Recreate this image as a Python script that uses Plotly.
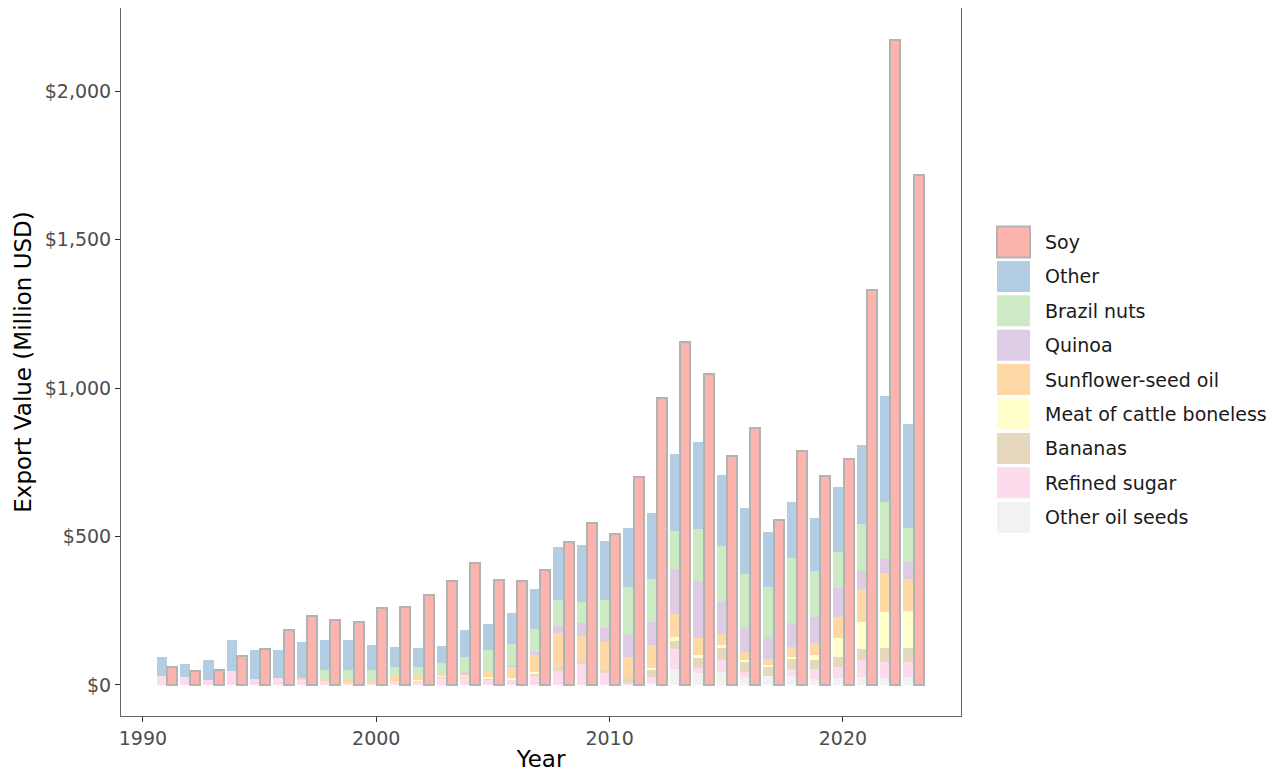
import plotly.graph_objects as go

years = list(range(1991, 2024))

soy = [60, 48, 50, 97, 122, 185, 231, 219, 211, 259, 263, 304, 351, 412, 354, 349, 386, 483, 545, 509,
       700, 965, 1156, 1048, 772, 866, 556, 788, 705, 760, 1330, 2172, 1717]
other = [64, 44, 68, 102, 98, 95, 122, 103, 102, 84, 66, 61, 56, 92, 86, 105, 134, 178, 190, 199,
         198, 223, 259, 293, 237, 222, 185, 186, 178, 217, 267, 355, 349]
brazil_nuts = [0, 0, 0, 0, 0, 0, 0, 31, 33, 35, 32, 28, 36, 49, 75, 71, 76, 87, 73, 93,
               163, 143, 128, 174, 188, 179, 168, 219, 155, 123, 156, 193, 117]
quinoa = [0, 0, 0, 0, 0, 0, 0, 0, 0, 0, 0, 0, 0, 5, 0, 7, 12, 25, 43, 47,
          73, 78, 153, 193, 109, 82, 75, 81, 90, 96, 62, 46, 56]
sunflower_oil = [0, 0, 0, 0, 0, 0, 3, 5, 10, 12, 17, 17, 8, 9, 16, 38, 55, 112, 84, 95,
                 67, 79, 79, 56, 37, 28, 21, 34, 39, 71, 110, 133, 107]
meat_cattle = [0, 0, 0, 0, 0, 0, 0, 0, 0, 0, 0, 2, 3, 3, 5, 3, 6, 0, 0, 0,
               0, 5, 11, 11, 12, 8, 5, 9, 17, 64, 92, 122, 127]
bananas = [0, 0, 0, 0, 0, 0, 0, 0, 0, 0, 0, 0, 3, 2, 5, 2, 8, 14, 11, 10,
           20, 23, 29, 34, 39, 31, 32, 32, 30, 35, 37, 47, 44]
refined_sugar = [31, 26, 17, 48, 19, 24, 20, 14, 7, 3, 13, 15, 25, 26, 17, 17, 31, 48, 70, 41,
                 8, 20, 67, 17, 39, 17, 0, 24, 34, 35, 56, 54, 51]
other_oil_seeds = [0, 0, 0, 0, 0, 0, 0, 0, 0, 0, 0, 0, 0, 0, 0, 0, 0, 0, 0, 0,
                   0, 8, 53, 39, 45, 28, 30, 30, 20, 25, 28, 22, 28]

y_tick_values = [0, 500, 1000, 1500, 2000]
x_tick_values = [1990, 2000, 2010, 2020]

# stacking order bottom -> top
stack_names = ["Other oil seeds", "Refined sugar", "Bananas", "Meat of cattle boneless",
               "Sunflower-seed oil", "Quinoa", "Brazil nuts", "Other"]
stack_values = [other_oil_seeds, refined_sugar, bananas, meat_cattle,
                sunflower_oil, quinoa, brazil_nuts, other]
colors = {
    "Soy": "#FBB4AE", "Other": "#B3CDE3", "Brazil nuts": "#CCEBC5", "Quinoa": "#DECBE4",
    "Sunflower-seed oil": "#FED9A6", "Meat of cattle boneless": "#FFFFCC", "Bananas": "#E5D8BD",
    "Refined sugar": "#FDDAEC", "Other oil seeds": "#F2F2F2",
}
legend_order = ["Soy", "Other", "Brazil nuts", "Quinoa", "Sunflower-seed oil",
                "Meat of cattle boneless", "Bananas", "Refined sugar", "Other oil seeds"]

BAR_W = 0.43
x_stack = [y - 0.19 for y in years]
x_soy = [y + 0.24 for y in years]

fig = go.Figure()
for name, vals in zip(stack_names, stack_values):
    fig.add_trace(go.Bar(x=x_stack, y=vals, name=name, width=BAR_W,
                         marker=dict(color=colors[name], line=dict(width=0)),
                         showlegend=False))
fig.add_trace(go.Bar(x=x_soy, y=soy, name="Soy", width=BAR_W,
                     marker=dict(color=colors["Soy"], line=dict(color="#B3B3B3", width=2)),
                     showlegend=False))

# The page body adds an 8px offset; figure spans page (8..1275, 8..772)
OFF = 8
W, H = 1275 - OFF, 772 - OFF
# plot area in page pixels
PL, PR, PT, PB = 121, 961, 8, 716
L, R, T, B = PL - OFF, PR - OFF, PT - OFF, PB - OFF
pw, ph = R - L, B - T

# manual legend (large swatches like the reference), page pixel positions
sw_x0, sw_x1, lab_x = 997, 1030, 1043
first_c, step, sw_h = 242, 34.4, 31
shapes = []
annotations = []
for i, name in enumerate(legend_order):
    cy = first_c + i * step
    shapes.append(dict(type="rect", xref="paper", yref="paper",
                       x0=(sw_x0 - PL) / pw, x1=(sw_x1 - PL) / pw,
                       y0=(PB - (cy + sw_h / 2)) / ph, y1=(PB - (cy - sw_h / 2)) / ph,
                       fillcolor=colors[name],
                       line=dict(color="#B3B3B3" if name == "Soy" else "white",
                                 width=2 if name == "Soy" else 0)))
    annotations.append(dict(xref="paper", yref="paper", x=(lab_x - PL) / pw, y=(PB - cy) / ph,
                            text=name, showarrow=False, xanchor="left", yanchor="middle",
                            font=dict(family="DejaVu Sans", size=19, color="#1a1a1a")))

fig.update_layout(
    width=W, height=H,
    barmode="stack", bargap=0,
    plot_bgcolor="white", paper_bgcolor="white",
    margin=dict(l=L, r=W - R, t=T, b=H - B, pad=0, autoexpand=False),
    font=dict(family="DejaVu Sans", color="#000000"),
    shapes=shapes, annotations=annotations,
    showlegend=False,
)
fig.update_xaxes(
    range=[1989.06, 2025.06], tickvals=x_tick_values,
    ticktext=[str(v) for v in x_tick_values],
    ticks="outside", ticklen=5, tickcolor="#333333", tickwidth=1,
    tickfont=dict(size=19, color="#4d4d4d"),
    showgrid=False, zeroline=False, showline=True, mirror=True,
    linecolor="#666666", linewidth=1, automargin=False,
    title=dict(text="Year", font=dict(size=23, color="#000000"), standoff=4),
)
fig.update_yaxes(
    range=[-104.4, 2279.5], tickvals=y_tick_values,
    ticktext=["${:,}".format(v) for v in y_tick_values],
    ticks="outside", ticklen=5, tickcolor="#333333", tickwidth=1,
    tickfont=dict(size=19, color="#4d4d4d"),
    showgrid=False, zeroline=False, showline=True, mirror=True,
    linecolor="#666666", linewidth=1, automargin=False,
    title=dict(text="Export Value (Million USD)", font=dict(size=23, color="#000000"), standoff=6),
)

fig.write_html("out.html")
